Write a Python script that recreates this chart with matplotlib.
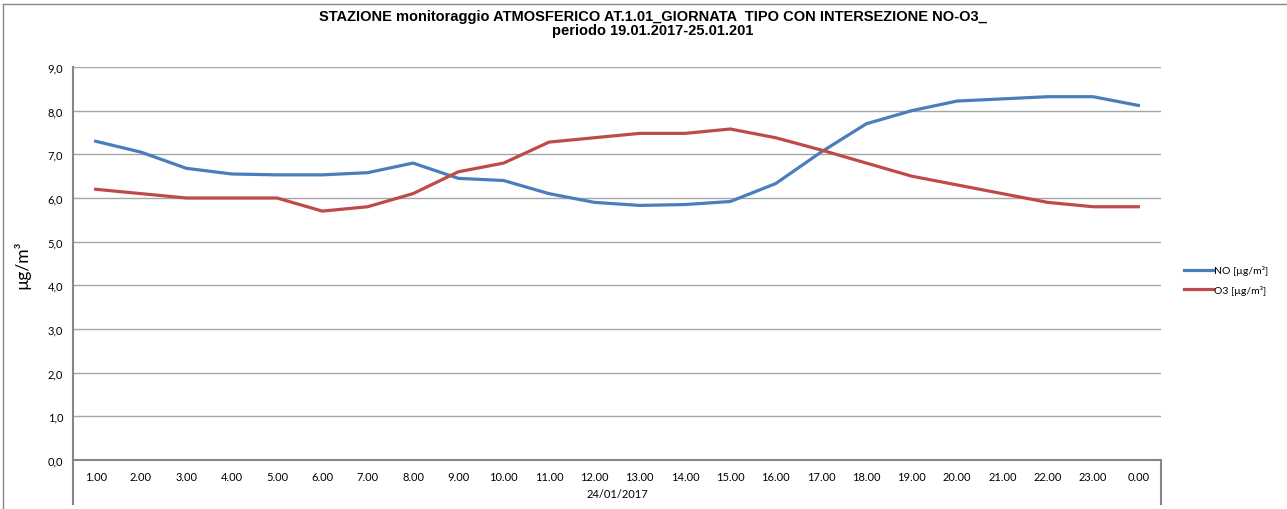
import matplotlib
matplotlib.use("Agg")
import matplotlib.pyplot as plt
from matplotlib.lines import Line2D

hours = ["1.00", "2.00", "3.00", "4.00", "5.00", "6.00", "7.00", "8.00", "9.00", "10.00",
         "11.00", "12.00", "13.00", "14.00", "15.00", "16.00", "17.00", "18.00", "19.00",
         "20.00", "21.00", "22.00", "23.00", "0.00"]
no_vals = [7.3, 7.05, 6.68, 6.55, 6.53, 6.53, 6.58, 6.8, 6.45, 6.4,
           6.1, 5.9, 5.83, 5.85, 5.92, 6.33, 7.05, 7.7, 8.0,
           8.22, 8.27, 8.32, 8.32, 8.12]
o3_vals = [6.2, 6.1, 6.0, 6.0, 6.0, 5.7, 5.8, 6.1, 6.6, 6.8,
           7.28, 7.38, 7.48, 7.48, 7.58, 7.38, 7.1, 6.8, 6.5,
           6.3, 6.1, 5.9, 5.8, 5.8]
yticks = [0, 1, 2, 3, 4, 5, 6, 7, 8, 9]
ytick_labels = ["0,0", "1,0", "2,0", "3,0", "4,0", "5,0", "6,0", "7,0", "8,0", "9,0"]
title = "STAZIONE monitoraggio ATMOSFERICO AT.1.01_GIORNATA  TIPO CON INTERSEZIONE NO-O3_\nperiodo 19.01.2017-25.01.201"
date_label = "24/01/2017"
ylabel = "µg/m³"
series_names = ["NO [µg/m³]", "O3 [µg/m³]"]

tick_font = ["Lato", "DejaVu Sans"]
title_font = ["Liberation Sans Narrow", "Liberation Sans", "DejaVu Sans"]

L, R, T, B = 73, 1161, 68, 461
fig = plt.figure(figsize=(12.87, 5.10), dpi=100)
ax = fig.add_axes([L/1287, 1-B/510, (R-L)/1287, (B-T)/510])

x = list(range(len(hours)))
l1, = ax.plot(x, no_vals, color="#4A7EBB", lw=2.3, solid_joinstyle="round")
l2, = ax.plot(x, o3_vals, color="#BE4B48", lw=2.3, solid_joinstyle="round")

ax.set_xlim(-0.5, len(hours) - 0.5)
ax.set_ylim(0, 9)
ax.set_yticks(yticks)
ax.set_yticklabels(ytick_labels, family=tick_font, fontsize=8)
ax.set_xticks(x)
ax.set_xticklabels(hours, family=tick_font, fontsize=8)
ax.tick_params(axis="both", length=0)
ax.tick_params(axis="y", pad=7)
ax.tick_params(axis="x", pad=8)
ax.grid(axis="y", color="#A6A6A6", lw=1)
ax.set_axisbelow(True)
for s in ["top", "right"]:
    ax.spines[s].set_visible(False)
ax.spines["left"].set_color("#868686")
ax.spines["left"].set_linewidth(1.5)
ax.spines["bottom"].set_color("#868686")
ax.spines["bottom"].set_linewidth(1.5)

ext = -(505 - B) / (B - T)
ax.add_line(Line2D([0, 0], [0, ext], transform=ax.transAxes, color="#868686", lw=1.5, clip_on=False))
ax.add_line(Line2D([1, 1], [0, ext], transform=ax.transAxes, color="#868686", lw=1.5, clip_on=False))

ax.text(0.5, -(495 - B) / (B - T), date_label, transform=ax.transAxes, ha="center", va="center",
        family=tick_font, fontsize=8)

fig.text(22/1287, 1-265/510, ylabel, rotation=90, ha="center", va="center",
         family=tick_font, fontsize=12.5)

fig.text(653/1287, 1-24/510, title, ha="center", va="center", family=title_font,
         fontsize=10.5, fontweight="bold", linespacing=1.05)

leg = fig.legend([l1, l2], series_names, loc="center left",
                 bbox_to_anchor=(1175/1287, 1-281/510), frameon=False,
                 prop={"family": tick_font, "size": 7.5}, handlelength=2.7,
                 handletextpad=0.1, labelspacing=0.9)

fig.lines.append(Line2D([3/1287, 3/1287], [0, 1-5/510], transform=fig.transFigure,
                        color="#868686", lw=1))
fig.lines.append(Line2D([3/1287, 1], [1-5/510, 1-5/510], transform=fig.transFigure,
                        color="#868686", lw=1))

fig.savefig("out.png", dpi=100)
